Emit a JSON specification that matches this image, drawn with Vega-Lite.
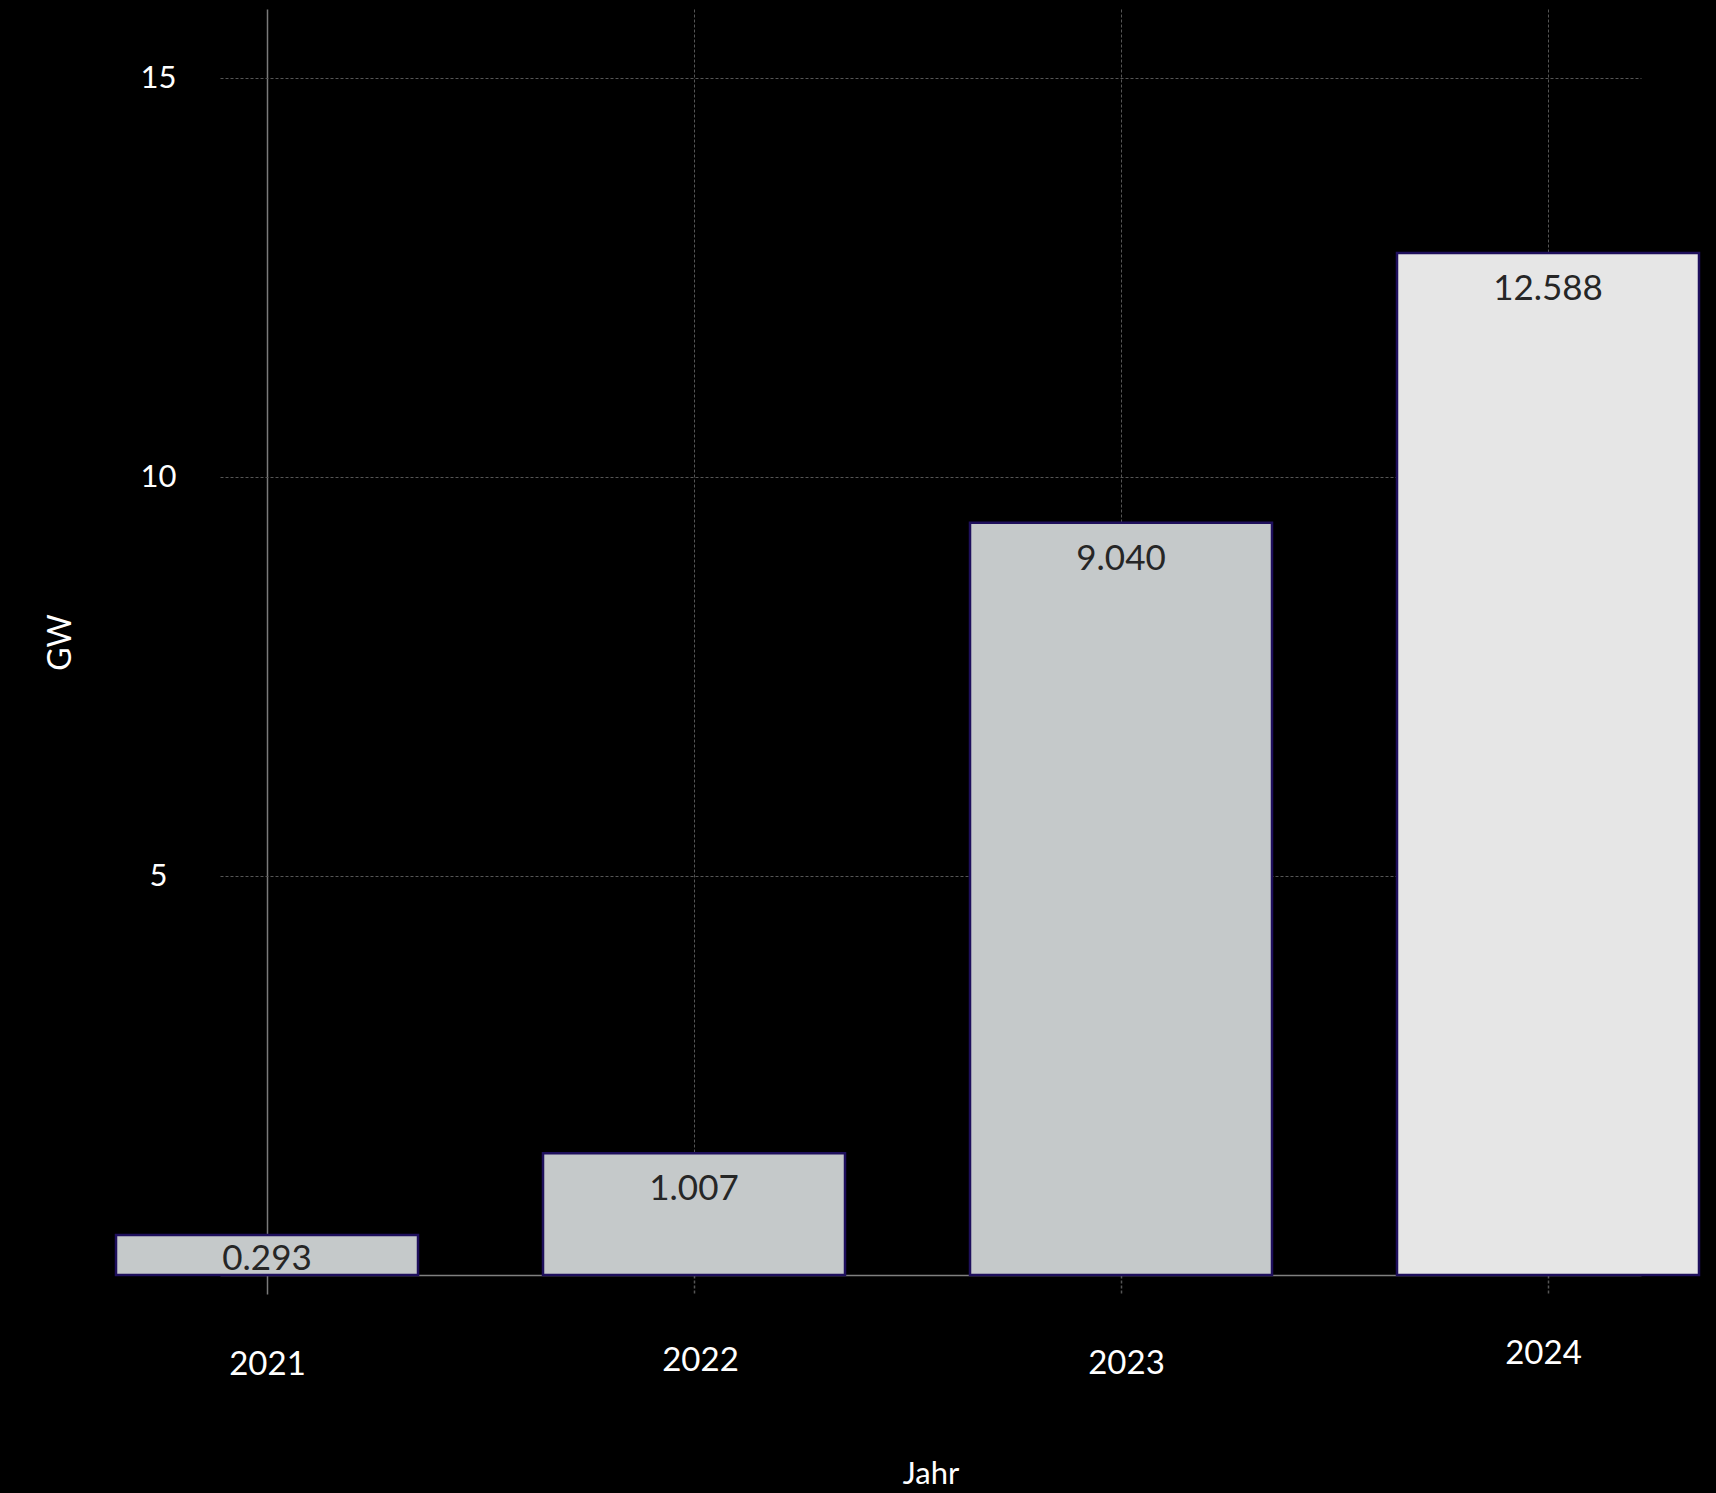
{
  "$schema": "https://vega.github.io/schema/vega-lite/v6.json",
  "width": 1421,
  "height": 1266,
  "autosize": {"type": "none"},
  "padding": {"left": 220, "top": 9, "right": 75, "bottom": 218},
  "background": "#000000",
  "config": {"view": {"stroke": null}, "font": "Lato"},
  "data": {
    "values": [
      {"Jahr": 2021, "GW_Balken": 0.501, "GW": "0.293"},
      {"Jahr": 2022, "GW_Balken": 1.525, "GW": "1.007"},
      {"Jahr": 2023, "GW_Balken": 9.427, "GW": "9.040"},
      {"Jahr": 2024, "GW_Balken": 12.807, "GW": "12.588"}
    ]
  },
  "layer": [
    {
      "mark": {"type": "bar", "width": 302, "stroke": "#1e0f5c", "strokeWidth": 2.5},
      "encoding": {
        "x": {
          "field": "Jahr",
          "type": "quantitative",
          "title": "Jahr",
          "scale": {"domain": [2020.8899, 2024.2178], "nice": false, "zero": false, "padding": 0},
          "axis": {
            "values": [2021, 2022, 2023, 2024],
            "format": "d",
            "grid": true,
            "gridColor": {"condition": {"test": "datum.value === 2021", "value": "#7a7a7a"}, "value": "#555555"},
            "gridDash": {"condition": {"test": "datum.value === 2021", "value": []}, "value": [3, 2]},
            "gridWidth": {"condition": {"test": "datum.value === 2021", "value": 1.5}, "value": 1},
            "ticks": true,
            "tickSize": 19,
            "tickColor": {"condition": {"test": "datum.value === 2021", "value": "#7a7a7a"}, "value": "#555555"},
            "tickDash": {"condition": {"test": "datum.value === 2021", "value": []}, "value": [3, 2]},
            "tickWidth": 1.5,
            "domain": true,
            "domainColor": "#808080",
            "domainWidth": 1.5,
            "labelFont": "Lato",
            "labelFontSize": 33,
            "labelColor": "#ffffff",
            "labelFlush": false,
            "labelBaseline": "alphabetic",
            "labelPadding": {
              "condition": [
                {"test": "datum.value === 2022", "value": 76},
                {"test": "datum.value === 2023", "value": 79},
                {"test": "datum.value === 2024", "value": 69}
              ],
              "value": 80
            },
            "labelOffset": {
              "condition": [
                {"test": "datum.value === 2022", "value": 6},
                {"test": "datum.value === 2023", "value": 5},
                {"test": "datum.value === 2024", "value": -5}
              ],
              "value": 0
            },
            "titleFont": "Lato",
            "titleFontSize": 31,
            "titleFontWeight": "normal",
            "titleColor": "#ffffff",
            "titleX": 710.5,
            "titleY": 208,
            "titleBaseline": "alphabetic",
            "titleAlign": "center"
          }
        },
        "y": {
          "field": "GW_Balken",
          "type": "quantitative",
          "title": "GW",
          "scale": {"domain": [0, 15.865], "nice": false, "padding": 0},
          "axis": {
            "values": [5, 10, 15],
            "format": "d",
            "grid": true,
            "gridColor": "#555555",
            "gridDash": [3, 2],
            "ticks": false,
            "tickSize": 0,
            "domain": false,
            "labelFont": "Lato",
            "labelFontSize": 31,
            "labelColor": "#ffffff",
            "labelAlign": "center",
            "labelBaseline": "middle",
            "labelPadding": 62,
            "titleFont": "Lato",
            "titleFontSize": 32,
            "titleFontWeight": "normal",
            "titleColor": "#ffffff",
            "titleAngle": -90,
            "titleX": -160,
            "titleY": 633,
            "titleBaseline": "middle",
            "titleAlign": "center"
          }
        },
        "fill": {"condition": {"test": "datum.Jahr === 2024", "value": "#e6e6e6"}, "value": "#c5c9ca"}
      }
    },
    {
      "transform": [{"filter": "datum.GW_Balken >= 1"}],
      "mark": {"type": "text", "dy": 47, "baseline": "alphabetic", "align": "center", "fontSize": 35, "font": "Lato", "color": "#262626"},
      "encoding": {
        "x": {"field": "Jahr", "type": "quantitative"},
        "y": {"field": "GW_Balken", "type": "quantitative"},
        "text": {"field": "GW"}
      }
    },
    {
      "transform": [{"filter": "datum.GW_Balken < 1"}],
      "mark": {"type": "text", "dy": 35, "baseline": "alphabetic", "align": "center", "fontSize": 35, "font": "Lato", "color": "#262626"},
      "encoding": {
        "x": {"field": "Jahr", "type": "quantitative"},
        "y": {"field": "GW_Balken", "type": "quantitative"},
        "text": {"field": "GW"}
      }
    }
  ]
}
